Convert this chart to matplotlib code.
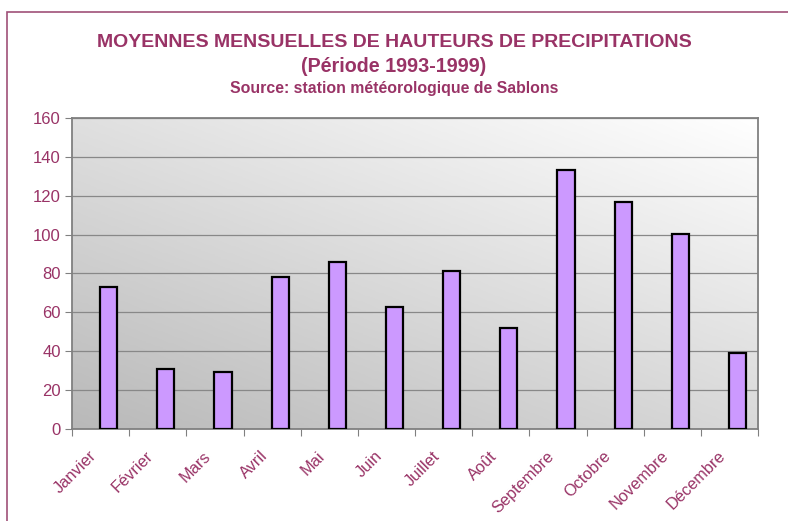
import numpy as np
import matplotlib
matplotlib.use("Agg")
import matplotlib.pyplot as plt
import matplotlib.transforms as mtransforms
from matplotlib.patches import Rectangle

plt.rcParams['font.family'] = ['Liberation Sans', 'DejaVu Sans']

# Monthly mean rainfall (mm), 1993-1999
mois = ["Janvier", "Février", "Mars", "Avril", "Mai", "Juin",
        "Juillet", "Août", "Septembre", "Octobre", "Novembre", "Décembre"]
hauteurs = [73, 31, 29.5, 78, 86, 62.7, 81.3, 52, 133.5, 117, 100.5, 39]
y_ticks = [0, 20, 40, 60, 80, 100, 120, 140, 160]

text_col = "#993366"

fig = plt.figure(figsize=(7.88, 5.21), dpi=100)
ax = fig.add_axes([0.0914, 0.1766, 0.8706, 0.5969])

# diagonal grey-to-white background inside the plot area
gx, gy = np.meshgrid(np.linspace(0, 1, 200), np.linspace(0, 1, 200))
grad = (gx * 0.45 + gy * 0.55)
ax.imshow(grad, extent=[0, 1, 0, 1], transform=ax.transAxes, origin="lower",
          cmap=matplotlib.colors.LinearSegmentedColormap.from_list(
              "bg", ["#b9b9b9", "#ffffff"]),
          aspect="auto", zorder=0, interpolation="bilinear")

x = np.arange(len(mois))
ax.bar(x + 0.64, hauteurs, width=0.3, color="#CC99FF", edgecolor="black",
       linewidth=1.6, zorder=3)

ax.set_xlim(0, len(mois))
ax.set_ylim(0, 160)
ax.set_yticks(y_ticks)
ax.yaxis.grid(True, color="#888888", linewidth=0.9, zorder=1)
ax.set_axisbelow(True)

for s in ax.spines.values():
    s.set_color("#808080")
    s.set_linewidth(1.3)

# tick marks at category boundaries, month names under each category
ax.set_xticks(np.arange(len(mois) + 1))
ax.set_xticklabels([])
ax.tick_params(axis="x", which="major", length=5, color="#808080")
ax.set_xticks(x + 0.5, minor=True)
ax.set_xticklabels(mois, minor=True, rotation=45, ha="right",
                   rotation_mode="anchor", fontsize=11.8, color=text_col)
ax.tick_params(axis="x", which="minor", length=0, pad=14)
offset = mtransforms.ScaledTranslation(-12 / 100, 0, fig.dpi_scale_trans)
for lab in ax.get_xticklabels(minor=True):
    lab.set_transform(lab.get_transform() + offset)

ax.tick_params(axis="y", length=5, color="#808080", labelsize=12,
               labelcolor=text_col, pad=3)

fig.text(0.5, 0.918, "MOYENNES MENSUELLES DE HAUTEURS DE PRECIPITATIONS",
         ha="center", va="center", fontsize=14, fontweight="bold", color=text_col)
fig.text(0.5, 0.873, "(Période 1993-1999)", ha="center", va="center",
         fontsize=14.2, fontweight="bold", color=text_col)
fig.text(0.5, 0.831, "Source: station météorologique de Sablons", ha="center",
         va="center", fontsize=11.4, fontweight="bold", color=text_col)

# outer frame
fig.patches.append(Rectangle((7 / 788, -0.1), 1.2, 1 - 12 / 521 + 0.1,
                             transform=fig.transFigure, fill=False,
                             edgecolor="#a05078", linewidth=1.2))

fig.savefig("out.png", dpi=100)
